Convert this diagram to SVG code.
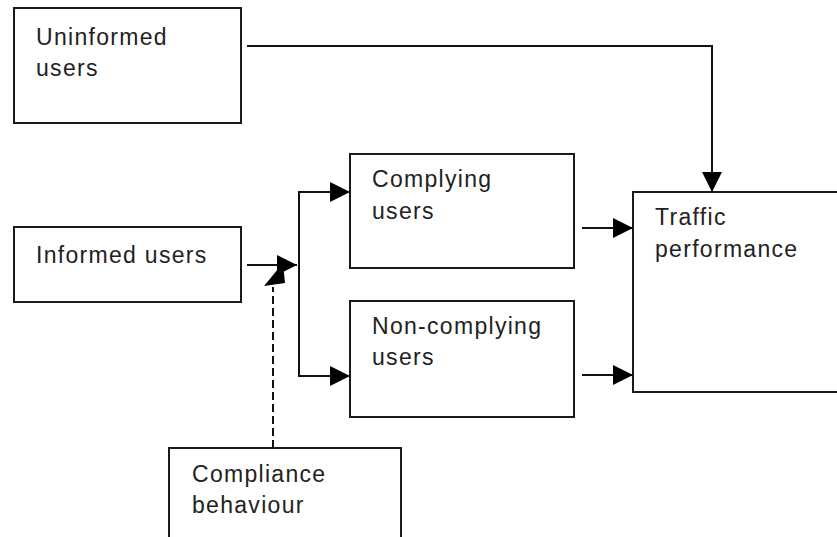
<svg xmlns="http://www.w3.org/2000/svg" width="837" height="537" viewBox="0 0 837 537">
  <defs>
    <style>
      .box { fill: #ffffff; stroke: #1a1a1a; stroke-width: 2; }
      .lbl { font-family: "Liberation Sans", Arial, sans-serif; font-size: 23px; letter-spacing: 1.3px; fill: #222222; }
      .wire { fill: none; stroke: #111111; stroke-width: 2; }
      .dash { fill: none; stroke: #111111; stroke-width: 2; stroke-dasharray: 8 4; }
      .head { fill: #000000; }
    </style>
    <marker id="arrow" markerUnits="userSpaceOnUse" markerWidth="22" markerHeight="22" refX="20" refY="10" orient="auto">
      <path class="head" d="M0,0 L20,10 L0,20 Z"/>
    </marker>
  </defs>

  <rect width="837" height="537" fill="#ffffff"/>

  <g id="uninformed-users">
    <rect class="box" x="14" y="8" width="227" height="115"/>
    <text class="lbl" x="36" y="45">Uninformed</text>
    <text class="lbl" x="36" y="76">users</text>
  </g>

  <g id="informed-users">
    <rect class="box" x="14" y="227" width="227" height="75"/>
    <text class="lbl" x="36" y="263">Informed users</text>
  </g>

  <g id="complying-users">
    <rect class="box" x="350" y="154" width="224" height="114"/>
    <text class="lbl" x="372" y="187">Complying</text>
    <text class="lbl" x="372" y="219">users</text>
  </g>

  <g id="non-complying-users">
    <rect class="box" x="350" y="301" width="224" height="116"/>
    <text class="lbl" x="372" y="334">Non-complying</text>
    <text class="lbl" x="372" y="365">users</text>
  </g>

  <g id="traffic-performance">
    <rect class="box" x="633" y="192" width="220" height="200"/>
    <text class="lbl" x="655" y="225">Traffic</text>
    <text class="lbl" x="655" y="257">performance</text>
  </g>

  <g id="compliance-behaviour">
    <rect class="box" x="169" y="448" width="232" height="110"/>
    <text class="lbl" x="192" y="482">Compliance</text>
    <text class="lbl" x="192" y="513">behaviour</text>
  </g>

  <g id="connectors">
    <path class="wire" d="M247,46 H712 V192" marker-end="url(#arrow)"/>
    <path class="wire" d="M247,265 H297" marker-end="url(#arrow)"/>
    <path class="wire" d="M299,265 V192 H350" marker-end="url(#arrow)"/>
    <path class="wire" d="M299,265 V376 H350" marker-end="url(#arrow)"/>
    <path class="wire" d="M582,228 H633" marker-end="url(#arrow)"/>
    <path class="wire" d="M582,375 H633" marker-end="url(#arrow)"/>
    <path class="dash" d="M273,448 V287"/>
    <!-- slanted head on the dashed influence line -->
    <polygon class="head" points="264,286 285,283 283,263"/>
  </g>
</svg>
